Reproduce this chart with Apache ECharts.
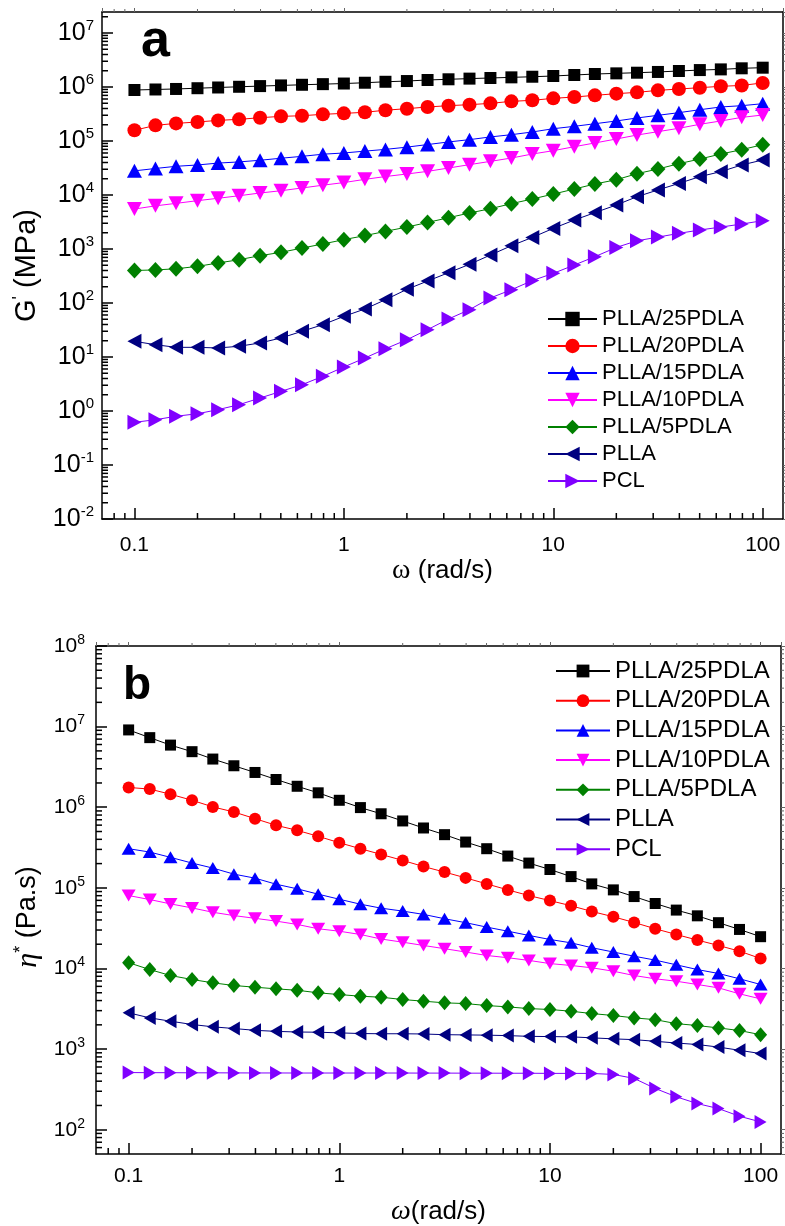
<!DOCTYPE html>
<html>
<head>
<meta charset="utf-8">
<script src="https://cdn.jsdelivr.net/npm/echarts@6/dist/echarts.min.js"></script>
<style>
  html, body { margin: 0; padding: 0; background: #fff; }
  #chart { width: 785px; height: 1226px; }
</style>
</head>
<body>
<div id="chart"></div>
<script>
// angular frequency, rad/s (10 points per decade)
const omega = [0.1, 0.126, 0.158, 0.2, 0.251, 0.316, 0.398, 0.501, 0.631, 0.794,
  1, 1.26, 1.58, 2, 2.51, 3.16, 3.98, 5.01, 6.31, 7.94,
  10, 12.6, 15.8, 20, 25.1, 31.6, 39.8, 50.1, 63.1, 79.4, 100]

const seriesNames = ['PLLA/25PDLA', 'PLLA/20PDLA', 'PLLA/15PDLA', 'PLLA/10PDLA', 'PLLA/5PDLA', 'PLLA', 'PCL']
const seriesColors = ['#000000', '#ff0000', '#0000ff', '#ff00ff', '#008000', '#000080', '#8000ff']
const seriesSymbols = ['rect', 'circle', 'triangle', 'triangle', 'diamond', 'triangle', 'triangle']
const symbolRotates = [0, 0, 0, 180, 0, 90, -90]

// panel a : G' (MPa)
const gPLLA25 = [8.8e5, 9.0e5, 9.2e5, 9.5e5, 9.8e5, 1.01e6, 1.04e6, 1.07e6, 1.10e6, 1.13e6,
  1.16e6, 1.20e6, 1.25e6, 1.29e6, 1.35e6, 1.39e6, 1.43e6, 1.47e6, 1.51e6, 1.55e6,
  1.60e6, 1.67e6, 1.74e6, 1.79e6, 1.84e6, 1.90e6, 1.98e6, 2.06e6, 2.12e6, 2.22e6, 2.28e6]
const gPLLA20 = [1.58e5, 1.95e5, 2.12e5, 2.25e5, 2.41e5, 2.52e5, 2.70e5, 2.86e5, 2.94e5, 3.12e5,
  3.25e5, 3.40e5, 3.72e5, 3.97e5, 4.27e5, 4.51e5, 4.71e5, 4.98e5, 5.43e5, 5.67e5,
  6.17e5, 6.53e5, 7.01e5, 7.53e5, 7.96e5, 8.67e5, 9.18e5, 9.72e5, 1.03e6, 1.07e6, 1.19e6]
const gPLLA15 = [2.8e4, 3.1e4, 3.4e4, 3.6e4, 3.9e4, 4.1e4, 4.4e4, 4.8e4, 5.2e4, 5.7e4,
  6.0e4, 6.5e4, 7.0e4, 7.7e4, 8.6e4, 9.6e4, 1.06e5, 1.19e5, 1.31e5, 1.47e5,
  1.69e5, 1.87e5, 2.09e5, 2.35e5, 2.67e5, 2.99e5, 3.35e5, 3.80e5, 4.27e5, 4.51e5, 4.91e5]
const gPLLA10 = [5.5e3, 6.3e3, 7.0e3, 7.85e3, 8.7e3, 9.7e3, 1.09e4, 1.2e4, 1.35e4, 1.52e4,
  1.7e4, 1.95e4, 2.2e4, 2.45e4, 2.74e4, 3.16e4, 3.65e4, 4.2e4, 4.84e4, 5.74e4,
  6.62e4, 7.85e4, 9.2e4, 1.09e5, 1.29e5, 1.49e5, 1.72e5, 2.04e5, 2.35e5, 2.74e5, 3.03e5]
const gPLLA5 = [400, 410, 430, 477, 551, 634, 753, 867, 1040, 1240,
  1490, 1770, 2120, 2550, 3100, 3800, 4640, 5580, 6910, 8440,
  1.04e4, 1.29e4, 1.6e4, 1.92e4, 2.48e4, 3.03e4, 3.8e4, 4.64e4, 5.74e4, 6.92e4, 8.55e4]
const gPLLA = [19.5, 16.9, 15.1, 15.1, 14.7, 15.8, 18.2, 22.5, 29.9, 39.7,
  56.6, 77.4, 115, 179, 255, 364, 520, 774, 1150, 1640,
  2410, 3440, 4710, 6530, 9300, 1.24e4, 1.64e4, 2.19e4, 2.71e4, 3.6e4, 4.45e4]
const gPCL = [0.617, 0.69, 0.80, 0.89, 1.06, 1.31, 1.74, 2.31, 3.07, 4.39,
  6.53, 9.58, 14.2, 20.9, 32.1, 50.6, 75.3, 124, 176, 260,
  354, 505, 721, 1070, 1420, 1660, 1950, 2250, 2550, 2900, 3350]

// panel b : eta* (Pa.s)
const etaPLLA25 = [9.1e6, 7.3e6, 5.9e6, 4.89e6, 3.96e6, 3.27e6, 2.7e6, 2.21e6, 1.82e6, 1.51e6,
  1.22e6, 9.9e5, 8.3e5, 6.76e5, 5.53e5, 4.57e5, 3.7e5, 3.06e5, 2.48e5, 2.03e5,
  1.69e5, 1.38e5, 1.12e5, 9.44e4, 7.8e4, 6.4e4, 5.3e4, 4.5e4, 3.7e4, 3.05e4, 2.48e4]
const etaPLLA20 = [1.76e6, 1.68e6, 1.45e6, 1.22e6, 1.01e6, 8.74e5, 7.22e5, 5.97e5, 5.17e5, 4.36e5,
  3.63e5, 3.06e5, 2.6e5, 2.19e5, 1.84e5, 1.57e5, 1.33e5, 1.12e5, 9.44e4, 8.03e4,
  6.95e4, 6.0e4, 5.1e4, 4.38e4, 3.72e4, 3.11e4, 2.64e4, 2.25e4, 1.93e4, 1.64e4, 1.33e4]
const etaPLLA15 = [3.06e5, 2.78e5, 2.39e5, 2.03e5, 1.76e5, 1.48e5, 1.32e5, 1.11e5, 9.73e4, 8.35e4,
  7.23e4, 6.27e4, 5.6e4, 5.15e4, 4.69e4, 4.14e4, 3.7e4, 3.26e4, 2.9e4, 2.57e4,
  2.29e4, 2.08e4, 1.81e4, 1.6e4, 1.42e4, 1.27e4, 1.11e4, 9.7e3, 8.67e3, 7.45e3, 6.33e3]
const etaPLLA10 = [8.03e4, 7.16e4, 6.33e4, 5.64e4, 4.98e4, 4.53e4, 4.19e4, 3.87e4, 3.52e4, 3.11e4,
  2.9e4, 2.64e4, 2.32e4, 2.12e4, 1.93e4, 1.76e4, 1.6e4, 1.45e4, 1.36e4, 1.26e4,
  1.15e4, 1.09e4, 1.02e4, 9.25e3, 8.18e3, 7.45e3, 6.95e3, 6.33e3, 5.75e3, 4.85e3, 4.2e3]
const etaPLLA5 = [1.18e4, 9.7e3, 8.18e3, 7.3e3, 6.64e3, 6.15e3, 5.86e3, 5.59e3, 5.37e3, 4.99e3,
  4.75e3, 4.53e3, 4.4e3, 4.12e3, 3.93e3, 3.75e3, 3.67e3, 3.47e3, 3.34e3, 3.18e3,
  3.1e3, 2.95e3, 2.76e3, 2.61e3, 2.44e3, 2.32e3, 2.07e3, 1.96e3, 1.83e3, 1.7e3, 1.51e3]
const etaPLLA = [2.82e3, 2.44e3, 2.22e3, 2.02e3, 1.89e3, 1.8e3, 1.71e3, 1.66e3, 1.63e3, 1.62e3,
  1.59e3, 1.56e3, 1.55e3, 1.55e3, 1.54e3, 1.51e3, 1.5e3, 1.49e3, 1.47e3, 1.44e3,
  1.43e3, 1.42e3, 1.38e3, 1.34e3, 1.31e3, 1.25e3, 1.19e3, 1.14e3, 1.06e3, 967, 880]
const etaPCL = [512, 510, 510, 508, 508, 507, 506, 506, 505, 505,
  505, 505, 505, 505, 504, 504, 503, 503, 502, 502,
  500, 500, 499, 485, 433, 325, 256, 211, 183, 147, 125]

const gSets = [gPLLA25, gPLLA20, gPLLA15, gPLLA10, gPLLA5, gPLLA, gPCL]
const etaSets = [etaPLLA25, etaPLLA20, etaPLLA15, etaPLLA10, etaPLLA5, etaPLLA, etaPCL]

// axis ranges
const xRange = [0.07, 125]
const yRangeA = [0.01, 2.45e7]
const yRangeB = [50, 1e8]
const minorMult = [2, 3, 4, 5, 6, 7, 8, 9]

const FONT = 'Liberation Sans'

function minorValues(range) {
  const out = []
  for (let k = -3; k <= 9; k++) {
    minorMult.forEach(m => {
      const v = +(m * Math.pow(10, k)).toPrecision(3)
      if (v > range[0] && v < range[1]) out.push(v)
    })
  }
  return out
}

// symbol sizes per panel
const sizesA = [12, 14, [15, 14], [15, 14], [15, 16], [15, 14], [15, 14]]
const sizesB = [11, 12, [14, 12], [14, 12], [13, 15], [14, 12], [14, 12]]

function makeSeries(sets, sizes, axisIdx) {
  return sets.map((vals, i) => ({
    name: seriesNames[i],
    type: 'line',
    xAxisIndex: axisIdx,
    yAxisIndex: axisIdx,
    data: omega.map((w, j) => [w, vals[j]]),
    symbol: seriesSymbols[i],
    symbolSize: sizes[i],
    symbolRotate: symbolRotates[i],
    showAllSymbol: true,
    color: seriesColors[i],
    itemStyle: { color: seriesColors[i], opacity: 1 },
    lineStyle: { color: seriesColors[i], width: 1 },
    emphasis: { disabled: true },
    animation: false,
    z: 3 + i * 0.01
  }))
}

// minor ticks for the log axes, placed through the axes' own scales
function xMinorSeries(axisIdx, yRange) {
  return {
    type: 'custom',
    xAxisIndex: axisIdx,
    yAxisIndex: axisIdx,
    silent: true,
    clip: false,
    z: 6,
    animation: false,
    data: minorValues(xRange).map(v => [v, yRange[0]]),
    renderItem: (params, api) => {
      const lo = api.coord([api.value(0), yRange[0]])
      const hi = api.coord([api.value(0), yRange[1]])
      return {
        type: 'group',
        children: [
          { type: 'line', shape: { x1: lo[0], y1: lo[1], x2: lo[0], y2: lo[1] - 6 }, style: { stroke: '#000', lineWidth: 1.5 } },
          { type: 'line', shape: { x1: hi[0], y1: hi[1], x2: hi[0], y2: hi[1] - 3 }, style: { stroke: '#666', lineWidth: 1 } }
        ]
      }
    }
  }
}

function yMinorSeries(axisIdx, yRange) {
  return {
    type: 'custom',
    xAxisIndex: axisIdx,
    yAxisIndex: axisIdx,
    silent: true,
    clip: false,
    z: 6,
    animation: false,
    data: minorValues(yRange).map(v => [xRange[0], v]),
    renderItem: (params, api) => {
      const lo = api.coord([xRange[0], api.value(1)])
      const hi = api.coord([xRange[1], api.value(1)])
      return {
        type: 'group',
        children: [
          { type: 'line', shape: { x1: lo[0], y1: lo[1], x2: lo[0] + 6, y2: lo[1] }, style: { stroke: '#000', lineWidth: 1.5 } },
          { type: 'line', shape: { x1: hi[0], y1: hi[1], x2: hi[0] + 3, y2: hi[1] }, style: { stroke: '#666', lineWidth: 1 } }
        ]
      }
    }
  }
}

const axisLineStyle = { color: '#000', width: 1.5 }

function bottomX(gridIndex, nameGap, labelMargin, omegaStyle) {
  return {
    type: 'log', gridIndex, position: 'bottom', min: xRange[0], max: xRange[1], logBase: 10,
    name: '{w|ω}' + (omegaStyle === 'italic' ? '' : ' ') + '(rad/s)',
    nameLocation: 'middle', nameGap,
    nameTextStyle: {
      fontSize: 26, fontFamily: FONT, color: '#000',
      rich: { w: { fontSize: 28, fontFamily: 'Liberation Serif', fontStyle: omegaStyle, color: '#000' } }
    },
    axisLine: { show: true, lineStyle: axisLineStyle },
    axisTick: { show: true, inside: true, length: 11, lineStyle: axisLineStyle },
    minorTick: { show: false },
    splitLine: { show: false },
    axisLabel: {
      show: true, margin: labelMargin, fontSize: 21, fontFamily: FONT, color: '#000',
      showMinLabel: false, showMaxLabel: false,
      formatter: v => String(+(+v).toPrecision(2))
    }
  }
}

function topX(gridIndex) {
  return {
    type: 'log', gridIndex, position: 'top', min: xRange[0], max: xRange[1], logBase: 10,
    axisLine: { show: true, lineStyle: axisLineStyle },
    axisTick: { show: true, inside: false, length: 4, lineStyle: { color: '#666', width: 1 } },
    axisLabel: { show: false },
    splitLine: { show: false }
  }
}

function leftY(gridIndex, range, name, nameStyle, nameGap, labelMargin, labelSize, supSize, supPad, showMin, showMax) {
  return {
    type: 'log', gridIndex, position: 'left', min: range[0], max: range[1], logBase: 10,
    name, nameLocation: 'middle', nameGap, nameRotate: 90,
    nameTextStyle: nameStyle,
    axisLine: { show: true, lineStyle: axisLineStyle },
    axisTick: { show: true, inside: true, length: 11, lineStyle: axisLineStyle },
    splitLine: { show: false },
    axisLabel: {
      show: true, margin: labelMargin, fontSize: labelSize, fontFamily: FONT, color: '#000',
      showMinLabel: showMin, showMaxLabel: showMax,
      formatter: v => '10{s|' + Math.round(Math.log10(v)) + '}',
      rich: { s: { fontSize: supSize, fontFamily: FONT, color: '#000', padding: [0, 0, supPad, 0] } }
    }
  }
}

function rightY(gridIndex, range) {
  return {
    type: 'log', gridIndex, position: 'right', min: range[0], max: range[1], logBase: 10,
    axisLine: { show: true, lineStyle: axisLineStyle },
    axisTick: { show: true, inside: false, length: 4, lineStyle: { color: '#666', width: 1 } },
    axisLabel: { show: false },
    splitLine: { show: false }
  }
}

const chart = echarts.init(document.getElementById('chart'), null, { renderer: 'canvas' })

const option = {
  backgroundColor: '#fff',
  animation: false,
  textStyle: { fontFamily: FONT },
  grid: [
    { left: 102, top: 12, right: 2, bottom: 707, outerBoundsMode: 'none', containLabel: false },
    { left: 96, top: 646, right: 4, bottom: 72, outerBoundsMode: 'none', containLabel: false }
  ],
  xAxis: [
    bottomX(0, 38, 16, 'normal'),
    topX(0),
    bottomX(1, 44, 12, 'italic'),
    topX(1)
  ],
  yAxis: [
    leftY(0, yRangeA, 'G{p|\'} (MPa)', {
      fontSize: 29, fontFamily: FONT, color: '#000',
      rich: { p: { fontSize: 18, fontFamily: FONT, color: '#000', padding: [0, 0, 14, 0] } }
    }, 42, 8, 25, 15, 14, true, false),
    rightY(0, yRangeA),
    leftY(1, yRangeB, '{e|η}{p|*} (Pa.s)', {
      fontSize: 27, fontFamily: FONT, color: '#000', padding: [0, 34, 0, 0],
      rich: {
        e: { fontSize: 30, fontFamily: 'Liberation Serif', fontStyle: 'italic', color: '#000' },
        p: { fontSize: 18, fontFamily: FONT, color: '#000', padding: [0, 0, 14, 0] }
      }
    }, 50, 11, 21, 14, 12, false, true),
    rightY(1, yRangeB)
  ],
  legend: [
    {
      orient: 'vertical', left: 542, top: 303,
      itemWidth: 49, itemHeight: 18, itemGap: 5,
      textStyle: { fontSize: 22, fontFamily: FONT, color: '#000' },
      data: seriesNames, selectedMode: false
    },
    {
      orient: 'vertical', left: 550, top: 654,
      itemWidth: 54, itemHeight: 16, itemGap: 5.7,
      textStyle: { fontSize: 24, fontFamily: FONT, color: '#000' },
      data: seriesNames, selectedMode: false
    }
  ],
  graphic: [
    { type: 'text', x: 141, y: 42, style: { text: 'a', font: 'bold 52px "Liberation Sans"', fill: '#000', textAlign: 'left', textVerticalAlign: 'middle' } },
    { type: 'text', x: 123, y: 686, style: { text: 'b', font: 'bold 46px "Liberation Sans"', fill: '#000', textAlign: 'left', textVerticalAlign: 'middle' } }
  ],
  series: [
    ...makeSeries(gSets, sizesA, 0),
    ...makeSeries(etaSets, sizesB, 2),
    xMinorSeries(0, yRangeA),
    yMinorSeries(0, yRangeA),
    xMinorSeries(2, yRangeB),
    yMinorSeries(2, yRangeB)
  ]
}

chart.setOption(option)
</script>
</body>
</html>
